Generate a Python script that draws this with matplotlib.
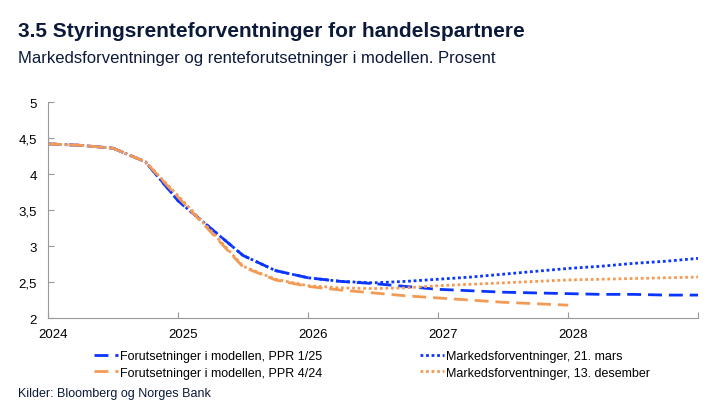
import matplotlib
matplotlib.use("Agg")
from matplotlib import pyplot as plt
import matplotlib.transforms as mtransforms

plt.rcParams['font.family'] = ['Liberation Sans', 'DejaVu Sans']

# kvartalsvise tidspunkt
t_full = [2024 + 0.25 * i for i in range(21)]
t_ppr424 = t_full[:17]

ppr125 = [4.42, 4.40, 4.36, 4.17, 3.63, 3.25, 2.87, 2.66, 2.56, 2.51, 2.48,
          2.44, 2.40, 2.38, 2.36, 2.35, 2.34, 2.33, 2.33, 2.32, 2.32]
mars = [4.42, 4.40, 4.36, 4.17, 3.63, 3.25, 2.87, 2.66, 2.56, 2.51, 2.49,
        2.51, 2.54, 2.57, 2.61, 2.65, 2.69, 2.72, 2.76, 2.79, 2.83]
ppr424 = [4.42, 4.40, 4.36, 4.17, 3.68, 3.20, 2.71, 2.53, 2.44, 2.39, 2.35,
          2.31, 2.28, 2.25, 2.22, 2.20, 2.18]
desember = [4.42, 4.40, 4.36, 4.17, 3.70, 3.22, 2.72, 2.54, 2.45, 2.42, 2.41,
            2.42, 2.45, 2.47, 2.49, 2.51, 2.53, 2.54, 2.55, 2.56, 2.57]

labels = ["Forutsetninger i modellen, PPR 1/25",
          "Forutsetninger i modellen, PPR 4/24",
          "Markedsforventninger, 21. mars",
          "Markedsforventninger, 13. desember"]
x_ticks = [2024, 2025, 2026, 2027, 2028]
y_ticks = [2, 2.5, 3, 3.5, 4, 4.5, 5]

blue = '#0a35ff'
orange = '#f39b55'
navy = '#0b1a3a'

fig = plt.figure(figsize=(7.22, 4.06), dpi=100)
ax = fig.add_axes([0.0665, 0.214, 0.9005, 0.532])

l1, = ax.plot(t_full, ppr125, color=blue, lw=2.0, ls=(0, (5, 2.5)))
l3, = ax.plot(t_full, mars, color=blue, lw=2.0, ls=(0, (1, 1)))
l2, = ax.plot(t_ppr424, ppr424, color=orange, lw=2.0, ls=(0, (5, 2.5)))
l4, = ax.plot(t_full, desember, color=orange, lw=2.0, ls=(0, (1, 1)))

ax.set_xlim(2024, 2029)
ax.set_ylim(2, 5)
ax.set_xticks(x_ticks + [2029])
ax.set_xticklabels([str(x) for x in x_ticks] + [''])
ax.set_yticks(y_ticks)
ax.set_yticklabels(['2', '2,5', '3', '3,5', '4', '4,5', '5'])
for s in ['top', 'right']:
    ax.spines[s].set_visible(False)
for s in ['left', 'bottom']:
    ax.spines[s].set_color('#999999')
ax.tick_params(axis='both', direction='in', length=4, color='#999999',
               labelsize=9.5, labelcolor='black')
ax.tick_params(axis='y', pad=8)
ax.tick_params(axis='x', pad=7)
offset = mtransforms.ScaledTranslation(5 / 100, 0, fig.dpi_scale_trans)
for lab in ax.get_xticklabels():
    lab.set_transform(lab.get_transform() + offset)

leg = fig.legend([l1, l2, l3, l4], labels, ncol=2, loc='upper left',
                 bbox_to_anchor=(0.13, 0.135), frameon=False, fontsize=9,
                 handlelength=1.9, handletextpad=0.2, columnspacing=7.8,
                 labelspacing=0.35, borderaxespad=0, borderpad=0)

fig.text(0.025, 0.91, "3.5 Styringsrenteforventninger for handelspartnere",
         fontsize=15, fontweight='bold', color=navy)
fig.text(0.025, 0.845, "Markedsforventninger og renteforutsetninger i modellen. Prosent",
         fontsize=12, color=navy)
fig.text(0.025, 0.022, "Kilder: Bloomberg og Norges Bank", fontsize=9, color=navy)

fig.savefig('out.png', dpi=100)
